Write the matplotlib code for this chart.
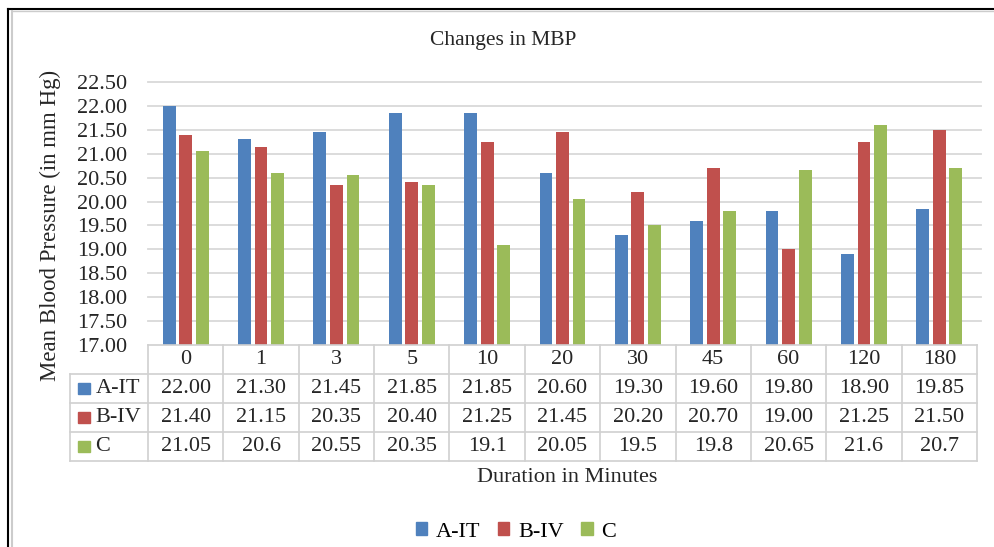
import numpy as np
import matplotlib.pyplot as plt
from matplotlib.lines import Line2D
from matplotlib.patches import Rectangle

plt.rcParams['font.family'] = ['Liberation Serif', 'DejaVu Serif']

durations = ['0', '1', '3', '5', '10', '20', '30', '45', '60', '120', '180']
series_names = ['A-IT', 'B-IV', 'C']
a_it = [22.00, 21.30, 21.45, 21.85, 21.85, 20.60, 19.30, 19.60, 19.80, 18.90, 19.85]
b_iv = [21.40, 21.15, 20.35, 20.40, 21.25, 21.45, 20.20, 20.70, 19.00, 21.25, 21.50]
c_grp = [21.05, 20.6, 20.55, 20.35, 19.1, 20.05, 19.5, 19.8, 20.65, 21.6, 20.7]
a_txt = ['22.00', '21.30', '21.45', '21.85', '21.85', '20.60', '19.30', '19.60', '19.80', '18.90', '19.85']
b_txt = ['21.40', '21.15', '20.35', '20.40', '21.25', '21.45', '20.20', '20.70', '19.00', '21.25', '21.50']
c_txt = ['21.05', '20.6', '20.55', '20.35', '19.1', '20.05', '19.5', '19.8', '20.65', '21.6', '20.7']
yticks = [17.00, 17.50, 18.00, 18.50, 19.00, 19.50, 20.00, 20.50, 21.00, 21.50, 22.00, 22.50]

colors = ['#4F81BD', '#C0504D', '#9BBB59']
grid_c = '#D9D9D9'
txt_c = '#262626'
fs = 16
W, H = 995, 547

def fx(px):
    return px / W

def fy(py):
    return 1 - py / H

fig = plt.figure(figsize=(9.95, 5.47), dpi=100)

# plot area in pixels
L, R, T, B = 148, 977, 82, 345
ax = fig.add_axes([fx(L), fy(B), fx(R) - fx(L), fy(T) - fy(B)])
x = np.arange(len(durations))
for k, vals in enumerate([a_it, b_iv, c_grp]):
    base = yticks[0]
    ax.bar(x + (k - 1) * 0.22, np.array(vals) - base, bottom=base, width=0.17,
           color=colors[k], zorder=3)
ax.set_xlim(-0.5, len(durations) - 0.5)
ax.set_ylim(17.0, 22.5)
ax.set_yticks(yticks)
ax.set_yticklabels(['%.2f' % v for v in yticks], fontsize=fs, color=txt_c)
ax.tick_params(axis='y', length=0, pad=15)
ax.set_xticks([])
for s in ax.spines.values():
    s.set_visible(False)
for v in yticks[1:]:
    ax.axhline(v, color=grid_c, lw=1.3, zorder=1, xmax=1.005, clip_on=False)

# data table under the plot
tab = fig.add_axes([fx(L), fy(461), fx(R) - fx(L), fy(B) - fy(461)])
tab.set_xlim(-0.5, len(durations) - 0.5)
tab.set_ylim(4, 0)
tab.axis('off')
left = -0.5 - (L - 70) / ((R - L) / len(durations))
n = len(durations)
lc = '#D0D0D0'
tab.plot([-0.5, n - 0.5], [0, 0], color=lc, lw=1.2, clip_on=False)
for r in [1, 2, 3, 4]:
    tab.plot([left, n - 0.5], [r, r], color=lc, lw=1.2, clip_on=False)
for i in range(n + 1):
    tab.plot([i - 0.5, i - 0.5], [0, 4], color=lc, lw=1.2, clip_on=False)
tab.plot([left, left], [1, 4], color=lc, lw=1.2, clip_on=False)

for i, d in enumerate(durations):
    tab.text(i, 0.5, d, ha='center', va='center', fontsize=fs, color=txt_c)
for r, (name, txts) in enumerate(zip(series_names, [a_txt, b_txt, c_txt])):
    for i, t in enumerate(txts):
        tab.text(i, r + 1.5, t, ha='center', va='center', fontsize=fs, color=txt_c)
    tab.add_patch(Rectangle((left + 0.11, r + 1.5 - 0.18), 0.15, 0.36,
                            color=colors[r], clip_on=False))
    tab.text(left + 0.34, r + 1.5, name, ha='left', va='center', fontsize=fs,
             color=txt_c)

# titles and labels
fig.text(fx(503), fy(40), 'Changes in MBP', ha='center', va='center',
         fontsize=15.5, color=txt_c)
fig.text(fx(50), fy(225), 'Mean Blood Pressure (in mm Hg)', ha='center', va='center',
         rotation=90, fontsize=16.5, color=txt_c)
fig.text(fx(567), fy(478), 'Duration in Minutes', ha='center', va='center',
         fontsize=fs, color=txt_c)

# legend
handles = [Rectangle((0, 0), 1, 1, color=c) for c in colors]
fig.legend(handles, series_names, loc='center', bbox_to_anchor=(fx(516), fy(532)),
           ncol=3, frameon=False, fontsize=fs, handlelength=0.5, handleheight=0.5,
           handletextpad=0.4, columnspacing=0.8)

# outer frame
fig.add_artist(Line2D([fx(8), 1], [fy(9), fy(9)], color='black', lw=1.5))
fig.add_artist(Line2D([fx(8), fx(8)], [fy(9), 0], color='black', lw=1.5))
fig.add_artist(Line2D([fx(12), fx(12)], [fy(11), 0], color='#CCCCCC', lw=1.5))
fig.add_artist(Line2D([fx(12), 1], [fy(11), fy(11)], color='#CCCCCC', lw=1.0))

fig.savefig('out.png', dpi=100)
